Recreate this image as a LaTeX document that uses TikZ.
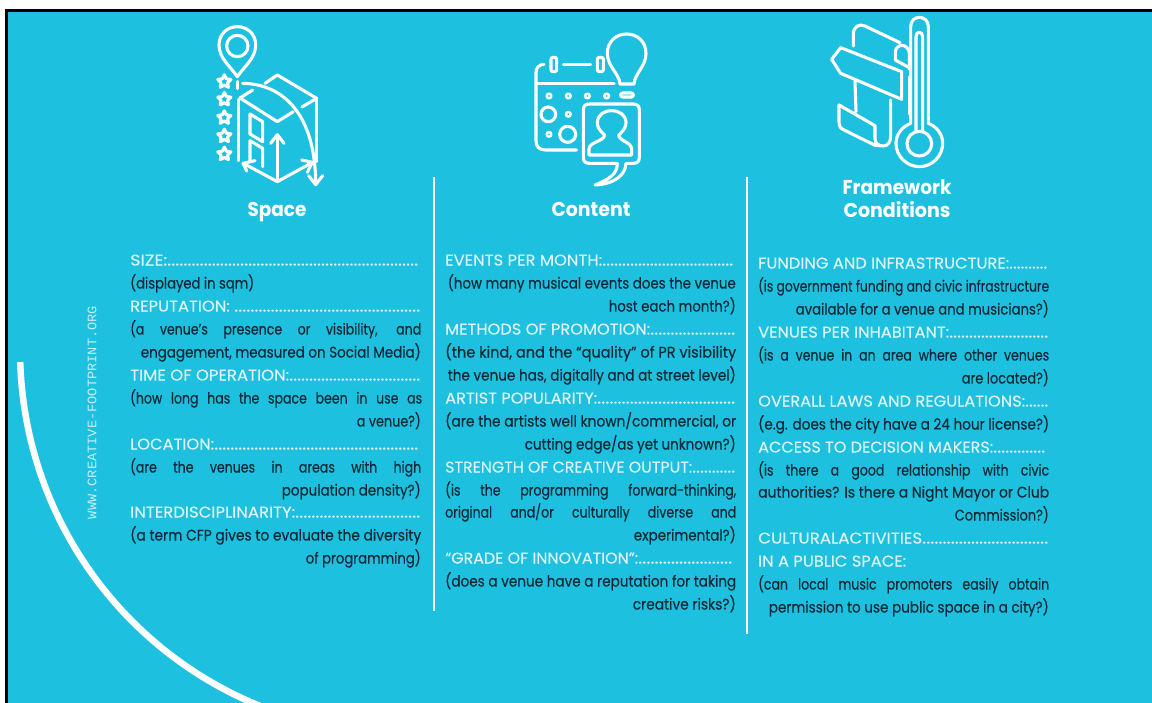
\documentclass[tikz,border=0pt]{standalone}
\usepackage{fontspec}
\usepackage{graphicx}
\setmainfont{Poppins}
\newfontfamily\monof{Liberation Mono}
\newfontfamily\dscfont{Poppins}[FakeBold=0.35]
\newfontfamily\labfont{Poppins}[FakeBold=0.12]
\definecolor{bgc}{HTML}{1EC0DF}
\definecolor{labc}{HTML}{DDF5FA}
\definecolor{desc}{HTML}{0B2A38}
\definecolor{markc}{HTML}{C4EEF6}
\newlength\fitl
\newcounter{tn}
\newcommand\fitbox[2]{\settowidth\fitl{#2}\pgfmathsetmacro\fitr{#1/\fitl}\scalebox{\fitr}[1]{#2}}
\tikzset{
  lab/.style={inner sep=0pt,text=labc,font=\labfont\fontsize{15.5}{15.5}\selectfont},
  dsc/.style={inner sep=0pt,text=desc,font=\dscfont\fontsize{15.3}{15.3}\selectfont},
  title/.style={inner sep=0pt,text=white,anchor=base,font=\fontsize{20}{20}\selectfont\bfseries},
  icon/.style={draw=white,line width=3.1pt,line cap=round,line join=round},
  small/.style={line width=2.5pt},
  divider/.style={draw=white,line width=2pt}
}
% style, anchor, x, y(centre of x-height), width, text
\newcommand\T[6]{\stepcounter{tn}\node[#1,anchor=base #2] (t\thetn) at (#3,#4+5.5) {\fitbox{#5}{#6}};}
% label: x, y, word width, word, dots width, dots
\newcommand\Lb[6]{\stepcounter{tn}\node[lab,anchor=base west] (t\thetn) at (#1,#2+5.5) {\fitbox{#3}{#4}\fitbox{#5}{#6}};}
% justified line
\newcommand\J[5]{\stepcounter{tn}\pgfmathsetmacro\jw{#4/.82}\node[#1,anchor=base west] (t\thetn) at (#2,#3+5.5) {\scalebox{.82}[1]{\makebox[\jw pt][s]{#5}}};}
\begin{document}
\begin{tikzpicture}[x=1pt,y=-1pt]
\useasboundingbox (0,0) rectangle (1152,702);
\fill[white] (0,0) rectangle (1152,702);
\path[fill=bgc,draw=black,line width=3pt] (6.5,10.5) rectangle (1160,720);
% arc
\draw[white,line width=6.5pt] plot[smooth,domain=178.2:112,samples=70] ({404+384*cos(\x)},{350+384*sin(\x)});
% watermark
\node[inner sep=0pt,text=markc,rotate=90,font=\monof\fontsize{13}{13}\selectfont] (mark) at (92,412.5) {\fitbox{213}{WWW.CREATIVE-FOOTPRINT.ORG}};
% dividers
\coordinate (d1a) at (434,177); \coordinate (d1b) at (434,611);
\coordinate (d2a) at (747,177); \coordinate (d2b) at (747,634);
\draw[divider] (d1a) -- (d1b);
\draw[divider] (d2a) -- (d2b);
% titles
\node[title] (space) at (277,216) {\fitbox{59}{Space}};
\node[title] (content) at (591,216) {\fitbox{79}{Content}};
\node[title] (fw) at (897,194) {\fitbox{109}{Framework}};
\node[title] (cond) at (897,217) {\fitbox{107}{Conditions}};
% column 1
\Lb{130}{260}{37}{SIZE:}{251}{..............................................................}
\T{dsc}{west}{130}{283}{124}{(displayed in sqm)}
\Lb{130}{306}{104}{REPUTATION: }{186}{..............................................}
\J{dsc}{130}{329}{291}{(a venue’s presence or visibility, and}
\T{dsc}{east}{421}{352}{280}{engagement, measured on Social Media)}
\Lb{130}{375}{159}{TIME OF OPERATION:}{131}{.................................}
\J{dsc}{130}{398}{292}{(how long has the space been in use as}
\T{dsc}{east}{421}{421}{64}{a venue?)}
\Lb{130}{444}{84}{LOCATION:}{204}{...................................................}
\J{dsc}{130}{467}{291}{(are the venues in areas with high}
\T{dsc}{east}{421}{490}{139}{population density?)}
\Lb{130}{512}{165}{INTERDISCIPLINARITY:}{125}{...............................}
\T{dsc}{west}{130}{535}{291}{(a term CFP gives to evaluate the diversity}
\T{dsc}{east}{421}{558}{115}{of programming)}
% column 2
\Lb{445}{260}{157}{EVENTS PER MONTH:}{131}{.................................}
\T{dsc}{east}{736}{283}{288}{(how many musical events does the venue}
\T{dsc}{east}{736}{306}{127}{host each month?)}
\Lb{445}{329}{205}{METHODS OF PROMOTION:}{85}{.....................}
\T{dsc}{west}{445}{352}{291}{(the kind, and the “quality” of PR visibility}
\T{dsc}{east}{736}{375}{288}{the venue has, digitally and at street level)}
\Lb{445}{398}{152}{ARTIST POPULARITY:}{138}{..................................}
\T{dsc}{west}{445}{421}{291}{(are the artists well known/commercial, or}
\T{dsc}{east}{736}{444}{211}{cutting edge/as yet unknown?)}
\Lb{445}{467}{247}{STRENGTH OF CREATIVE OUTPUT:}{43}{...........}
\J{dsc}{445}{490}{291}{(is the programming forward-thinking,}
\J{dsc}{445}{512}{291}{original and/or culturally diverse and}
\T{dsc}{east}{736}{535}{102}{experimental?)}
\Lb{445}{558}{193}{“GRADE OF INNOVATION”:}{94}{.......................}
\T{dsc}{west}{445}{581}{291}{(does a venue have a reputation for taking}
\T{dsc}{east}{736}{604}{103}{creative risks?)}
% column 3
\Lb{758}{263}{251}{FUNDING AND INFRASTRUCTURE:}{38}{..........}
\T{dsc}{west}{758}{286}{291}{(is government funding and civic infrastructure}
\T{dsc}{east}{1049}{309}{253}{available for a venue and musicians?)}
\Lb{758}{332}{191}{VENUES PER INHABITANT:}{99}{.........................}
\J{dsc}{758}{355}{291}{(is a venue in an area where other venues}
\T{dsc}{east}{1049}{378}{87}{are located?)}
\Lb{758}{401}{267}{OVERALL LAWS AND REGULATIONS:}{23}{......}
\T{dsc}{west}{758}{424}{291}{(e.g. does the city have a 24 hour license?)}
\Lb{758}{447}{235}{ACCESS TO DECISION MAKERS:}{52}{.............}
\J{dsc}{758}{470}{291}{(is there a good relationship with civic}
\T{dsc}{west}{758}{492}{291}{authorities? Is there a Night Mayor or Club}
\T{dsc}{east}{1049}{515}{94}{Commission?)}
\Lb{758}{538}{164}{CULTURALACTIVITIES}{126}{...............................}
\T{lab}{west}{758}{561}{148}{IN A PUBLIC SPACE:}
\J{dsc}{758}{584}{291}{(can local music promoters easily obtain}
\T{dsc}{east}{1049}{607}{280}{permission to use public space in a city?)}
% icon 1: space
\begin{scope}[shift={(200,10)},x=.3333pt,y=-.3333pt]
\draw[icon] (112,200) .. controls (92,170) and (57,145) .. (57,105) .. controls (57,72) and (82,50) .. (112,50) .. controls (142,50) and (167,72) .. (167,105) .. controls (167,145) and (132,170) .. (112,200) -- cycle;
\draw[icon] (112,108) circle[radius=32];
\foreach \yy in {215,268,323,378,432}{
  \draw[icon,shift={(73,\yy)},scale=1.15] (0,-18) -- (5.3,-7.3) -- (17.1,-5.6) -- (8.6,2.8) -- (10.6,14.6) -- (0,9) -- (-10.6,14.6) -- (-8.6,2.8) -- (-17.1,-5.6) -- (-5.3,-7.3) -- cycle;
}
\draw[icon] (112,214) -- (112,236);
\draw[icon] (128,220) .. controls (255,222) and (347,320) .. (347,522);
\draw[icon] (326,497) -- (347,524) -- (368,497);
\draw[icon] (115,268) -- (115,452);
\draw[icon] (120,264) -- (158,240);
\draw[icon] (120,264) -- (232,335) -- (280,305);
\draw[icon] (195,220) -- (232,195) -- (350,265) -- (306,291);
\draw[icon] (350,265) -- (350,455);
\draw[icon] (232,374) -- (232,515);
\draw[icon] (212,400) -- (232,374) -- (252,400);
\draw[icon] (232,515) -- (130,460);
\draw[icon] (232,515) -- (336,458);
\draw[icon] (140,483) -- (129,460) -- (165,452);
\draw[icon] (305,450) -- (337,457) -- (322,487);
\draw[icon] (150,312) -- (188,335) -- (188,395) -- (150,372) -- cycle;
\draw[icon] (150,455) -- (150,392) -- (188,415) -- (188,470);
\end{scope}
% icon 2: content
\begin{scope}[shift={(520,20)},x=.3333pt,y=-.3333pt]
\draw[icon] (130,133) -- (212,133);
\draw[icon,rounded corners=2pt] (93,112) rectangle (110,155);
\draw[icon,rounded corners=2pt] (232,112) rectangle (250,155);
\draw[icon] (72,133) .. controls (58,133) and (48,143) .. (48,158) -- (48,362) .. controls (48,380) and (58,390) .. (76,390) -- (170,390);
\draw[icon] (50,190) -- (282,190);
\foreach \xx in {87,145,202,260}{\draw[icon,small] (\xx,228) circle[radius=7];}
\draw[icon,rounded corners=2pt] (302,219) rectangle (340,231);
\draw[icon] (85,283) circle[radius=22];
\draw[icon,small] (145,283) circle[radius=7];
\draw[icon,small] (87,343) circle[radius=7];
\draw[icon] (143,343) circle[radius=24];
\draw[icon] (300,192) .. controls (298,160) and (262,140) .. (262,100) .. controls (262,65) and (288,42) .. (320,42) .. controls (352,42) and (378,65) .. (378,100) .. controls (378,140) and (344,160) .. (342,192) -- cycle;
\draw[icon] (292,430) -- (208,430) .. controls (196,430) and (190,424) .. (190,412) -- (190,270) .. controls (190,258) and (196,252) .. (208,252) -- (340,252) .. controls (352,252) and (358,258) .. (358,270) -- (358,412) .. controls (358,424) and (352,430) .. (340,430) -- (318,430) .. controls (316,468) and (280,492) .. (225,495) .. controls (268,478) and (292,462) .. (292,430);
\draw[icon] (207,405) -- (207,388) .. controls (207,365) and (252,365) .. (254,345) .. controls (236,330) and (232,318) .. (232,308) .. controls (232,285) and (252,272) .. (275,272) .. controls (298,272) and (318,285) .. (318,308) .. controls (318,318) and (314,330) .. (296,345) .. controls (298,365) and (335,365) .. (335,388) -- (335,405) -- cycle;
\end{scope}
% icon 3: framework
\begin{scope}[shift={(820,10)},x=.3333pt,y=-.3333pt]
\draw[icon] (272,340) -- (272,50) .. controls (272,32) and (285,22) .. (298,22) .. controls (312,22) and (325,32) .. (325,50) -- (325,340) .. controls (350,350) and (368,372) .. (368,400) .. controls (368,438) and (337,470) .. (298,470) .. controls (260,470) and (228,438) .. (228,400) .. controls (228,372) and (247,350) .. (272,340) -- cycle;
\draw[icon] (288,364) -- (288,80) .. controls (288,62) and (308,62) .. (308,80) -- (308,364);
\draw[icon] (298,401) circle[radius=37];
\draw[icon] (100,108) -- (100,72) .. controls (100,50) and (118,40) .. (135,48) -- (240,98);
\draw[icon] (105,215) -- (108,305);
\draw[icon] (62,113) -- (245,185) -- (245,268) -- (62,190) -- (35,148) -- cycle;
\draw[icon] (226,150) -- (226,128) .. controls (226,115) and (235,106) .. (246,106) .. controls (258,106) and (268,118) .. (268,130) -- (268,178);
\draw[icon] (226,150) -- (266,172);
\draw[icon] (268,200) -- (268,312);
\draw[icon] (212,270) -- (212,380) .. controls (212,398) and (202,408) .. (190,408) .. controls (175,408) and (165,400) .. (165,385) -- (165,347) -- (57,285) -- (57,335) .. controls (57,350) and (62,355) .. (72,360) -- (165,406) -- (190,408);
\end{scope}
\end{tikzpicture}
\end{document}
